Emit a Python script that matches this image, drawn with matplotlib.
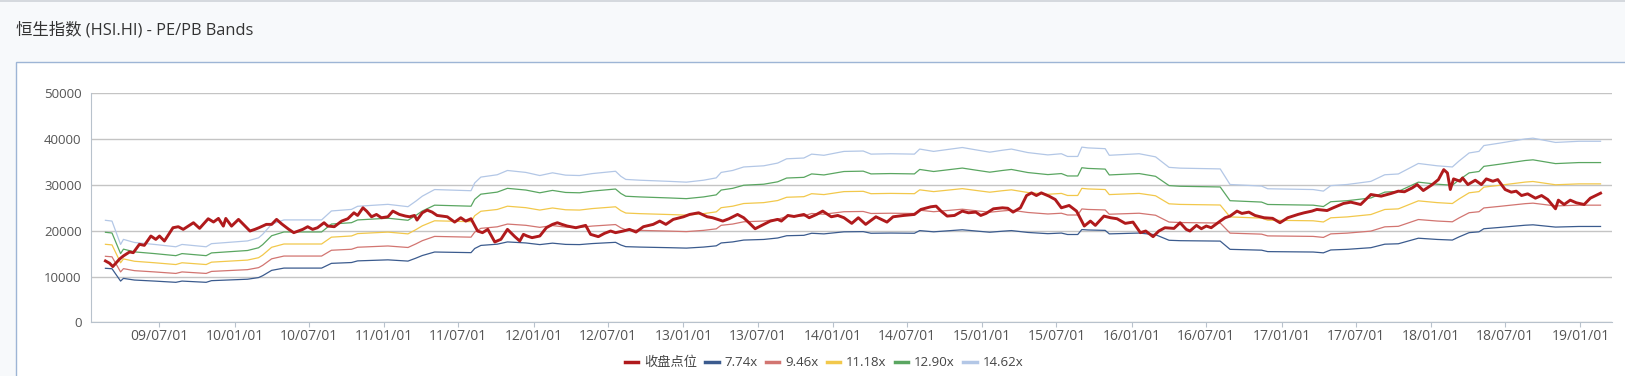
import pandas as pd
import matplotlib
matplotlib.use("Agg")
import matplotlib.pyplot as plt
import matplotlib.dates as mdates
from matplotlib.patches import Rectangle

plt.rcParams['font.family'] = ['Open Sans', 'Noto Sans CJK SC', 'DejaVu Sans']

# close (收盘点位)
close_dates = [
    "2009-02-19", "2009-03-01", "2009-03-09", "2009-03-25", "2009-04-04", "2009-04-19", "2009-04-28",
    "2009-05-13", "2009-05-25", "2009-06-10", "2009-06-22", "2009-07-01", "2009-07-13", "2009-08-03",
    "2009-08-16", "2009-08-28", "2009-09-22", "2009-10-07", "2009-10-28", "2009-11-10", "2009-11-22",
    "2009-12-04", "2009-12-10", "2009-12-24", "2010-01-10", "2010-02-07", "2010-02-19", "2010-03-01",
    "2010-03-19", "2010-04-01", "2010-04-13", "2010-04-25", "2010-05-13", "2010-05-25", "2010-06-16",
    "2010-06-28", "2010-07-10", "2010-07-22", "2010-08-07", "2010-08-16", "2010-09-01", "2010-09-19",
    "2010-10-04", "2010-10-19", "2010-10-28", "2010-11-10", "2010-11-19", "2010-12-01", "2010-12-13",
    "2010-12-25", "2011-01-10", "2011-01-22", "2011-02-07", "2011-02-22", "2011-03-04", "2011-03-16",
    "2011-03-22", "2011-04-04", "2011-04-16", "2011-04-28", "2011-05-10", "2011-06-04", "2011-06-22",
    "2011-07-07", "2011-07-19", "2011-08-01", "2011-08-17", "2011-08-29", "2011-09-11", "2011-09-28",
    "2011-10-13", "2011-10-29", "2011-11-16", "2011-11-28", "2011-12-07", "2011-12-16", "2011-12-28",
    "2012-01-16", "2012-02-01", "2012-02-16", "2012-02-28", "2012-03-10", "2012-03-23", "2012-04-13",
    "2012-05-07", "2012-05-19", "2012-06-07", "2012-06-22", "2012-07-07", "2012-07-19", "2012-08-07",
    "2012-08-22", "2012-09-07", "2012-09-25", "2012-10-19", "2012-11-04", "2012-11-19", "2012-12-07",
    "2013-01-01", "2013-01-16", "2013-02-07", "2013-02-28", "2013-03-13", "2013-04-07", "2013-04-22",
    "2013-05-13", "2013-05-28", "2013-06-10", "2013-06-25", "2013-07-16", "2013-08-01", "2013-08-19",
    "2013-08-28", "2013-09-13", "2013-09-28", "2013-10-22", "2013-11-04", "2013-11-22", "2013-12-07",
    "2013-12-28", "2014-01-13", "2014-01-28", "2014-02-16", "2014-03-04", "2014-03-22", "2014-04-16",
    "2014-05-13", "2014-05-28", "2014-06-23", "2014-07-19", "2014-08-04", "2014-08-28", "2014-09-10",
    "2014-09-22", "2014-10-07", "2014-10-25", "2014-11-13", "2014-11-28", "2014-12-16", "2014-12-28",
    "2015-01-10", "2015-01-28", "2015-02-19", "2015-03-04", "2015-03-17", "2015-04-04", "2015-04-19",
    "2015-05-01", "2015-05-13", "2015-05-25", "2015-06-13", "2015-06-28", "2015-07-13", "2015-08-01",
    "2015-08-19", "2015-09-07", "2015-09-22", "2015-10-04", "2015-10-25", "2015-11-10", "2015-11-26",
    "2015-12-16", "2016-01-04", "2016-01-22", "2016-02-04", "2016-02-22", "2016-03-07", "2016-03-22",
    "2016-04-13", "2016-04-28", "2016-05-13", "2016-05-22", "2016-06-07", "2016-06-19", "2016-07-01",
    "2016-07-13", "2016-08-04", "2016-08-16", "2016-08-28", "2016-09-14", "2016-09-26", "2016-10-13",
    "2016-10-28", "2016-11-19", "2016-12-10", "2016-12-28", "2017-01-16", "2017-02-10", "2017-02-25",
    "2017-03-16", "2017-03-28", "2017-04-22", "2017-05-07", "2017-06-01", "2017-06-19", "2017-07-13",
    "2017-08-07", "2017-09-01", "2017-09-25", "2017-10-13", "2017-10-28", "2017-11-16", "2017-11-28",
    "2017-12-13", "2018-01-04", "2018-01-19", "2018-02-01", "2018-02-10", "2018-02-17", "2018-02-25",
    "2018-03-13", "2018-03-19", "2018-04-01", "2018-04-19", "2018-05-04", "2018-05-16", "2018-06-01",
    "2018-06-13", "2018-07-01", "2018-07-16", "2018-07-28", "2018-08-10", "2018-08-25", "2018-09-13",
    "2018-09-28", "2018-10-13", "2018-11-01", "2018-11-08", "2018-11-22", "2018-12-07", "2018-12-22",
    "2019-01-10", "2019-01-25", "2019-02-19",
]
close_values = [
    13400, 12900, 12170, 13770, 14500, 15360, 15200,
    17030, 16800, 18840, 18100, 18840, 17750, 20650,
    20870, 20290, 21740, 20510, 22610, 21900, 22680,
    21000, 22680, 21000, 22470, 19930, 20290, 20650,
    21380, 21380, 22470, 21520, 20290, 19570, 20290,
    20870, 20290, 20650, 21740, 21020, 20870, 22100,
    22610, 23910, 23330, 25000, 24280, 23040, 23550,
    22830, 23040, 24280, 23550, 23190, 23040, 23330,
    22320, 23910, 24490, 24060, 23330, 23040, 21880,
    22830, 22100, 22610, 19930, 19570, 20290, 17540,
    18120, 20290, 18700, 17750, 19200, 18840, 18480,
    18840, 20650, 21380, 21740, 21380, 21020, 20650,
    21160, 19200, 18700, 19420, 19930, 19570, 19930,
    20290, 19710, 20870, 21380, 22100, 21380, 22470,
    23040, 23550, 23910, 23040, 22830, 22100, 22610,
    23550, 22830, 21740, 20430, 21380, 22100, 22470,
    22100, 23330, 23100, 23550, 22830, 23550, 24280,
    23040, 23330, 22830, 21600, 22830, 21380, 23040,
    21880, 23040, 23330, 23550, 24640, 25220, 25360,
    24280, 23190, 23330, 24280, 23910, 24060, 23330,
    23770, 24780, 25000, 24900, 24060, 25000, 27680,
    28260, 27680, 28260, 27540, 26810, 25000, 25510,
    24280, 21020, 22100, 21160, 23190, 22830, 22610,
    21600, 21880, 19570, 19930, 18700, 19930, 20650,
    20500, 21740, 20290, 19930, 21160, 20430, 21020,
    20650, 22100, 22830, 23190, 24280, 23770, 24060,
    23330, 22830, 22700, 21740, 22830, 23550, 23910,
    24280, 24640, 24400, 25000, 25940, 26230, 25720,
    27900, 27540, 28120, 28630, 28500, 29350, 30070,
    28770, 30070, 31160, 33330, 32610, 28990, 31310,
    30800, 31520, 30070, 31020, 30070, 31310, 30800,
    31160, 28990, 28410, 28630, 27680, 28050, 27100,
    27680, 26810, 24780, 26670, 25720, 26670, 26090,
    25720, 27100, 28190,
]

# PE bands at their break points
band_dates = [
    "2009-02-19", "2009-03-07", "2009-03-28", "2009-04-04", "2009-05-01", "2009-06-19", "2009-08-10",
    "2009-08-25", "2009-10-23", "2009-11-05", "2010-02-01", "2010-02-28", "2010-03-10", "2010-04-01",
    "2010-05-01", "2010-08-01", "2010-08-25", "2010-10-13", "2010-10-28", "2011-01-10", "2011-02-28",
    "2011-03-19", "2011-04-04", "2011-05-04", "2011-08-01", "2011-08-10", "2011-08-25", "2011-10-04",
    "2011-10-29", "2011-12-13", "2012-01-16", "2012-02-16", "2012-03-19", "2012-04-22", "2012-05-23",
    "2012-07-19", "2012-08-01", "2012-08-13", "2012-09-16", "2012-11-28", "2013-01-08", "2013-02-19",
    "2013-03-22", "2013-04-03", "2013-05-01", "2013-05-28", "2013-07-16", "2013-08-19", "2013-09-10",
    "2013-10-22", "2013-11-10", "2013-12-10", "2014-01-28", "2014-03-16", "2014-04-04", "2014-05-22",
    "2014-07-19", "2014-08-01", "2014-09-04", "2014-11-13", "2014-12-16", "2015-01-19", "2015-02-19",
    "2015-03-13", "2015-04-22", "2015-06-10", "2015-07-13", "2015-07-28", "2015-08-22", "2015-09-01",
    "2015-09-16", "2015-10-28", "2015-11-07", "2016-01-19", "2016-02-28", "2016-04-01", "2016-04-28",
    "2016-08-04", "2016-08-28", "2016-11-13", "2016-11-28", "2017-03-19", "2017-04-13", "2017-05-01",
    "2017-06-10", "2017-08-07", "2017-09-10", "2017-10-13", "2017-12-01", "2018-01-16", "2018-02-22",
    "2018-03-10", "2018-04-04", "2018-04-28", "2018-05-10", "2018-06-16", "2018-08-19", "2018-09-07",
    "2018-11-01", "2018-12-28", "2019-02-19",
]
pe_774 = [
    11790, 11700, 9000, 9585, 9225, 9000, 8730, 9000, 8730, 9090,
    9405, 9765, 10170, 11340, 11835, 11835, 12870, 13050, 13410, 13635,
    13365, 13995, 14580, 15345, 15210, 16110, 16785, 17055, 17550, 17325,
    16965, 17280, 17010, 16965, 17190, 17460, 16875, 16515, 16425, 16290,
    16200, 16425, 16695, 17325, 17550, 17955, 18090, 18405, 18900, 18990,
    19440, 19305, 19755, 19800, 19440, 19485, 19440, 20025, 19755, 20205,
    19935, 19665, 19890, 20025, 19620, 19350, 19485, 19170, 19170, 20250,
    20160, 20070, 19305, 19485, 19125, 17910, 17820, 17730, 15930, 15750,
    15435, 15345, 15165, 15795, 15930, 16290, 17055, 17145, 18360, 18090,
    17955, 18630, 19575, 19755, 20430, 20700, 21195, 21285, 20790, 20925,
    20925,
]
pe_946 = [
    14410, 14300, 11000, 11715, 11275, 11000, 10670, 11000, 10670, 11110,
    11495, 11935, 12430, 13860, 14465, 14465, 15730, 15950, 16390, 16665,
    16335, 17105, 17820, 18755, 18590, 19690, 20515, 20845, 21450, 21175,
    20735, 21120, 20790, 20735, 21010, 21340, 20625, 20185, 20075, 19910,
    19800, 20075, 20405, 21175, 21450, 21945, 22110, 22495, 23100, 23210,
    23760, 23595, 24145, 24200, 23760, 23815, 23760, 24475, 24145, 24695,
    24365, 24035, 24310, 24475, 23980, 23650, 23815, 23430, 23430, 24750,
    24640, 24530, 23595, 23815, 23375, 21890, 21780, 21670, 19470, 19250,
    18865, 18755, 18535, 19305, 19470, 19910, 20845, 20955, 22440, 22110,
    21945, 22770, 23925, 24145, 24970, 25300, 25905, 26015, 25410, 25575,
    25575,
]
pe_1118 = [
    17030, 16900, 13000, 13845, 13325, 13000, 12610, 13000, 12610, 13130,
    13585, 14105, 14690, 16380, 17095, 17095, 18590, 18850, 19370, 19695,
    19305, 20215, 21060, 22165, 21970, 23270, 24245, 24635, 25350, 25025,
    24505, 24960, 24570, 24505, 24830, 25220, 24375, 23855, 23725, 23530,
    23400, 23725, 24115, 25025, 25350, 25935, 26130, 26585, 27300, 27430,
    28080, 27885, 28535, 28600, 28080, 28145, 28080, 28925, 28535, 29185,
    28795, 28405, 28730, 28925, 28340, 27950, 28145, 27690, 27690, 29250,
    29120, 28990, 27885, 28145, 27625, 25870, 25740, 25610, 23010, 22750,
    22295, 22165, 21905, 22815, 23010, 23530, 24635, 24765, 26520, 26130,
    25935, 26910, 28275, 28535, 29510, 29900, 30615, 30745, 30030, 30225,
    30225,
]
pe_1290 = [
    19650, 19500, 15000, 15975, 15375, 15000, 14550, 15000, 14550, 15150,
    15675, 16275, 16950, 18900, 19725, 19725, 21450, 21750, 22350, 22725,
    22275, 23325, 24300, 25575, 25350, 26850, 27975, 28425, 29250, 28875,
    28275, 28800, 28350, 28275, 28650, 29100, 28125, 27525, 27375, 27150,
    27000, 27375, 27825, 28875, 29250, 29925, 30150, 30675, 31500, 31650,
    32400, 32175, 32925, 33000, 32400, 32475, 32400, 33375, 32925, 33675,
    33225, 32775, 33150, 33375, 32700, 32250, 32475, 31950, 31950, 33750,
    33600, 33450, 32175, 32475, 31875, 29850, 29700, 29550, 26550, 26250,
    25725, 25575, 25275, 26325, 26550, 27150, 28425, 28575, 30600, 30150,
    29925, 31050, 32625, 32925, 34050, 34500, 35325, 35475, 34650, 34875,
    34875,
]
pe_1462 = [
    22270, 22100, 17000, 18105, 17425, 17000, 16490, 17000, 16490, 17170,
    17765, 18445, 19210, 21420, 22355, 22355, 24310, 24650, 25330, 25755,
    25245, 26435, 27540, 28985, 28730, 30430, 31705, 32215, 33150, 32725,
    32045, 32640, 32130, 32045, 32470, 32980, 31875, 31195, 31025, 30770,
    30600, 31025, 31535, 32725, 33150, 33915, 34170, 34765, 35700, 35870,
    36720, 36465, 37315, 37400, 36720, 36805, 36720, 37825, 37315, 38165,
    37655, 37145, 37570, 37825, 37060, 36550, 36805, 36210, 36210, 38250,
    38080, 37910, 36465, 36805, 36125, 33830, 33660, 33490, 30090, 29750,
    29155, 28985, 28645, 29835, 30090, 30770, 32215, 32385, 34680, 34170,
    33915, 35190, 36975, 37315, 38590, 39100, 40035, 40205, 39270, 39525,
    39525,
]

band_labels = ["7.74x", "9.46x", "11.18x", "12.90x", "14.62x"]
band_series = [pe_774, pe_946, pe_1118, pe_1290, pe_1462]
band_colors = ["#3b5b8e", "#d27571", "#f2c84b", "#5aa661", "#b3c7e6"]

y_ticks = [0, 10000, 20000, 30000, 40000, 50000]

fig = plt.figure(figsize=(16.25, 3.76), dpi=100)
fig.patch.set_facecolor("#f7f9fb")

# page frame: thin top border and the white chart panel (kept behind the axes)
fig.patches.append(Rectangle((0, 0.996), 1, 0.004, transform=fig.transFigure,
                             facecolor="#d5d9de", edgecolor="none", zorder=-10))
fig.patches.append(Rectangle((16 / 1625, -0.05), 1.1, 1 - 62 / 376 + 0.05,
                             transform=fig.transFigure, facecolor="white",
                             edgecolor="#9db5d5", linewidth=1.0, zorder=-10))

fig.text(16 / 1625, 1 - 30 / 376, "恒生指数 (HSI.HI) - PE/PB Bands",
         fontsize=11.8, color="#333333", va="center", ha="left")

ax = fig.add_axes([90.7 / 1625, 1 - 322.3 / 376, (1612 - 90.7) / 1625, (322.3 - 93.3) / 376])
ax.set_zorder(5)
ax.set_facecolor("white")

cd = pd.to_datetime(close_dates)
bd = pd.to_datetime(band_dates)

ax.plot(cd, close_values, color="#b01a1c", linewidth=2.1, label="收盘点位", zorder=5)
for vals, lab, col in zip(band_series, band_labels, band_colors):
    ax.plot(bd, vals, color=col, linewidth=0.9, label=lab, zorder=3)

ax.set_ylim(0, 50000)
ax.set_yticks(y_ticks)
ax.set_xlim(pd.Timestamp("2009-01-14"), pd.Timestamp("2019-03-19"))
ax.xaxis.set_major_locator(mdates.MonthLocator(bymonth=[1, 7], bymonthday=1))
ax.xaxis.set_major_formatter(mdates.DateFormatter("%y/%m/%d"))

ax.grid(axis="y", color="#c4c4c4", linewidth=1.0)
ax.set_axisbelow(True)
for s in ["top", "right"]:
    ax.spines[s].set_visible(False)
ax.spines["left"].set_color("#b8c2cc")
ax.spines["bottom"].set_color("#b8c2cc")
ax.tick_params(axis="y", length=0, pad=6.5, labelsize=9.5, labelcolor="#555555")
ax.tick_params(axis="x", length=3.5, color="#b8c2cc", pad=1, labelsize=10, labelcolor="#555555")

leg = fig.legend(loc="center", bbox_to_anchor=(0.507, 1 - 362.7 / 376), ncol=6,
                 frameon=False, fontsize=9.5, handlelength=1.0, handletextpad=0.45,
                 columnspacing=0.65)
for line, t in zip(leg.get_lines(), leg.get_texts()):
    line.set_linewidth(2.5)
    t.set_color("#444444")

fig.savefig("out.png", dpi=100, facecolor=fig.get_facecolor())
